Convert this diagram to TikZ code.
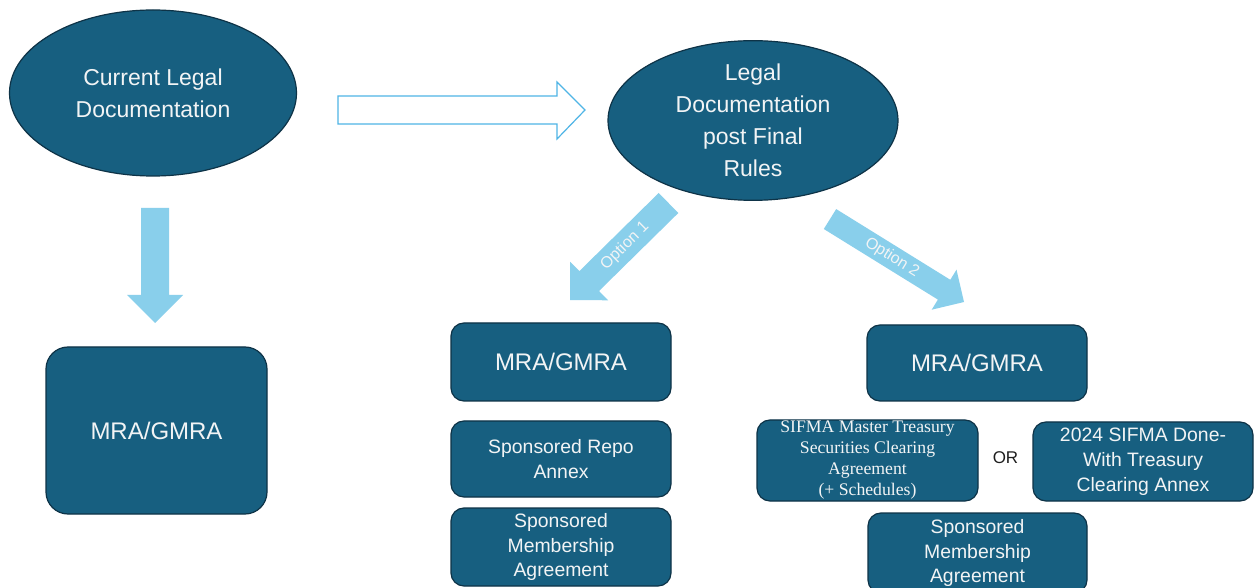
\documentclass[tikz,border=0pt]{standalone}
\usepackage{fontspec}
\setmainfont{Liberation Sans}
\newfontfamily\serifx{Liberation Serif}
\usetikzlibrary{shapes.geometric}
\definecolor{boxfill}{HTML}{175F80}
\definecolor{boxline}{HTML}{0E3347}
\definecolor{arrowblue}{HTML}{89CFEB}
\definecolor{arrowline}{HTML}{4FB5E6}
\definecolor{txtwhite}{HTML}{F2F4F5}
\definecolor{ortext}{HTML}{1E1E1E}
\tikzset{
  docell/.style={ellipse, draw=boxline, fill=boxfill, line width=0.6pt, inner sep=0pt,
    text=txtwhite, align=center, font=\fontsize{11.5}{16}\selectfont},
  docbox/.style={rectangle, rounded corners=6.5pt, draw=boxline, fill=boxfill, line width=0.6pt,
    inner sep=0pt, text=txtwhite, align=center, minimum width=110pt},
  bigtxt/.style={font=\fontsize{12}{16}\selectfont},
  midtxt/.style={font=\fontsize{9.7}{12.4}\selectfont},
  sertxt/.style={font=\serifx\fontsize{8.85}{10.5}\selectfont},
  solidarrow/.style={fill=arrowblue, draw=none},
  optlabel/.style={text=txtwhite, font=\fontsize{8}{9.6}\selectfont, inner sep=0pt}
}
\begin{document}
\begin{tikzpicture}[x=0.5pt,y=-0.5pt]
\useasboundingbox (0,0) rectangle (1254,588);
\fill[white] (0,0) rectangle (1254,588);

% ellipses
\node[docell, minimum width=143.5pt, minimum height=83pt] (cur) at (153,93) {Current Legal\\Documentation};
\node[docell, minimum width=145pt, minimum height=76.5pt] (post) at (753,120.5) {Legal\\Documentation\\post Final\\Rules};

% outline arrow
\draw[arrowline, fill=white, line width=0.6pt]
  (338,96) -- (557,96) -- (557,82) -- (585,110) -- (557,139) -- (557,124) -- (338,124) -- cycle;

% down arrow
\fill[solidarrow] (141,208) -- (169,208) -- (169,295) -- (183,295) -- (155,323) -- (127,295) -- (141,295) -- cycle;

% option 1 arrow
\fill[solidarrow] (658.7,193.0) -- (678.3,213.0) -- (599.0,291.0) -- (608.2,300.3) -- (570,300)
  -- (570.2,261.8) -- (579.4,271.1) -- cycle;
\node[optlabel, rotate=44.6] (opt1) at (625,246) {Option 1};

% option 2 arrow
\fill[solidarrow] (836.2,209.1) -- (823.8,229.0) -- (937.9,299.6) -- (931.7,309.7) -- (964,302)
  -- (956.5,269.7) -- (950.3,279.8) -- cycle;
\node[optlabel, rotate=-31.8] (opt2) at (892,257.5) {Option 2};

% left box
\node[docbox, bigtxt, rounded corners=11pt, minimum width=110.5pt, minimum height=83.5pt] (mraL) at (156.5,430.5) {MRA/GMRA};

% middle column
\node[docbox, bigtxt, minimum height=39pt] (mraM) at (561,362) {MRA/GMRA};
\node[docbox, midtxt, minimum height=38pt] (repo) at (561,459) {Sponsored Repo\\Annex};
\node[docbox, midtxt, minimum height=39pt] (memM) at (561,547) {Sponsored\\Membership\\Agreement};

% right column
\node[docbox, bigtxt, minimum height=38pt] (mraR) at (977,363) {MRA/GMRA};
\node[docbox, sertxt, minimum width=110.5pt, minimum height=40.5pt] (sifma) at (867.5,460.5) {SIFMA Master Treasury\\Securities Clearing\\Agreement\\(+ Schedules)};
\node[text=ortext, font=\fontsize{8.5}{10}\selectfont, inner sep=0pt] (or) at (1005.5,458) {OR};
\node[docbox, midtxt, minimum height=39.5pt] (done) at (1143,461.5) {2024 SIFMA Done-\\With Treasury\\Clearing Annex};
\node[docbox, midtxt, minimum width=109.5pt, minimum height=40pt] (memR) at (977.5,553) {Sponsored\\Membership\\Agreement};
\end{tikzpicture}
\end{document}
